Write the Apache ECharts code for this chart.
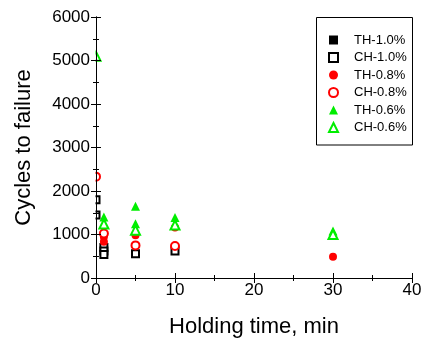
<!DOCTYPE html>
<html>
<head>
<meta charset="utf-8">
<script src="https://cdn.jsdelivr.net/npm/echarts@6/dist/echarts.min.js"></script>
<style>
  html, body { margin: 0; padding: 0; background: #fff; }
  #chart { width: 425px; height: 342px; }
</style>
</head>
<body>
<div id="chart"></div>
<script>
// values: [holding time (min), cycles to failure]
const th10 = [];
const ch10 = [[0, 1800], [0, 1450], [1, 700], [1, 620], [1, 540], [5, 560], [10, 620]];
const th08 = [[1, 950], [1, 835], [5, 985], [10, 1160], [30, 490]];
const ch08 = [[0, 2330], [1, 1025], [5, 750], [10, 735]];
const th06 = [[1, 1400], [5, 1650], [5, 1250], [10, 1390], [30, 1080]];
const ch06 = [[0, 5100], [1, 1240], [5, 1100], [10, 1220], [30, 1000]];

const xTicks = [0, 10, 20, 30, 40];
const yTicks = [0, 1000, 2000, 3000, 4000, 5000, 6000];

const font = '"Liberation Sans", Arial, sans-serif';
const chart = echarts.init(document.getElementById('chart'));

const frameAxis = {
  axisLine: { show: true, lineStyle: { color: '#000', width: 1 } },
  axisTick: { show: true, inside: true, length: 5, lineStyle: { color: '#000' } },
  minorTick: { show: true, splitNumber: 2, length: 3, lineStyle: { color: '#000' } },
  splitLine: { show: false },
  z: 20
};

function series(name, data, symbol, color, size) {
  return {
    name: name,
    type: 'scatter',
    data: data,
    symbol: symbol,
    symbolSize: size,
    itemStyle: { color: color, opacity: 1 },
    emphasis: { disabled: true },
    z: 5
  };
}

chart.setOption({
  animation: false,
  textStyle: { fontFamily: font },
  grid: { left: 96, right: 13, top: 17, bottom: 64, outerBoundsMode: 'none' },
  xAxis: [
    Object.assign({
      type: 'value',
      min: xTicks[0],
      max: xTicks[xTicks.length - 1],
      interval: 10,
      name: 'Holding time, min',
      nameLocation: 'middle',
      nameGap: 38,
      nameTextStyle: { fontSize: 22, color: '#000', fontFamily: font },
      axisLabel: { fontSize: 17, color: '#000', margin: 4, fontFamily: font, formatter: v => String(v) }
    }, frameAxis),
    Object.assign({
      type: 'value', position: 'top', min: 0, max: 40, interval: 10,
      axisLabel: { show: false }
    }, frameAxis)
  ],
  yAxis: [
    Object.assign({
      type: 'value',
      min: yTicks[0],
      max: yTicks[yTicks.length - 1],
      interval: 1000,
      name: 'Cycles to failure',
      nameLocation: 'middle',
      nameGap: 61,
      nameTextStyle: { fontSize: 22, color: '#000', fontFamily: font },
      axisLabel: { fontSize: 17, color: '#000', margin: 6, fontFamily: font, formatter: v => String(v) }
    }, frameAxis),
    Object.assign({
      type: 'value', position: 'right', min: 0, max: 6000, interval: 1000,
      axisLabel: { show: false }
    }, frameAxis)
  ],
  legend: {
    orient: 'vertical',
    left: 328,
    top: 33,
    padding: 0,
    itemWidth: 9,
    itemHeight: 9,
    itemGap: 3.5,
    inactiveColor: '#000',
    itemStyle: { borderWidth: 1 },
    formatter: name => '{pad|}' + name,
    textStyle: {
      fontSize: 13, color: '#000', lineHeight: 14, fontFamily: font,
      rich: { pad: { width: 11 } }
    },
    data: ['TH-1.0%', 'CH-1.0%', 'TH-0.8%', 'CH-0.8%', 'TH-0.6%', 'CH-0.6%']
  },
  graphic: [
    // white strip left of the y axis: points at t = 0 show only their right half
    { type: 'rect', z: 10, silent: true, shape: { x: 84, y: 12, width: 11.5, height: 272 }, style: { fill: '#fff' } },
    // legend frame
    { type: 'rect', z: 10, silent: true, shape: { x: 316.5, y: 17.5, width: 96, height: 127.5 }, style: { fill: 'none', stroke: '#000', lineWidth: 1 } }
  ],
  series: [
    series('TH-1.0%', th10, 'rect', '#000', 7),
    series('CH-1.0%', ch10, 'emptyRect', '#000', 7),
    series('TH-0.8%', th08, 'circle', '#ff0000', 8),
    series('CH-0.8%', ch08, 'emptyCircle', '#ff0000', 8),
    series('TH-0.6%', th06, 'triangle', '#00ee00', 9),
    series('CH-0.6%', ch06, 'emptyTriangle', '#00ee00', 9)
  ]
});
</script>
</body>
</html>
